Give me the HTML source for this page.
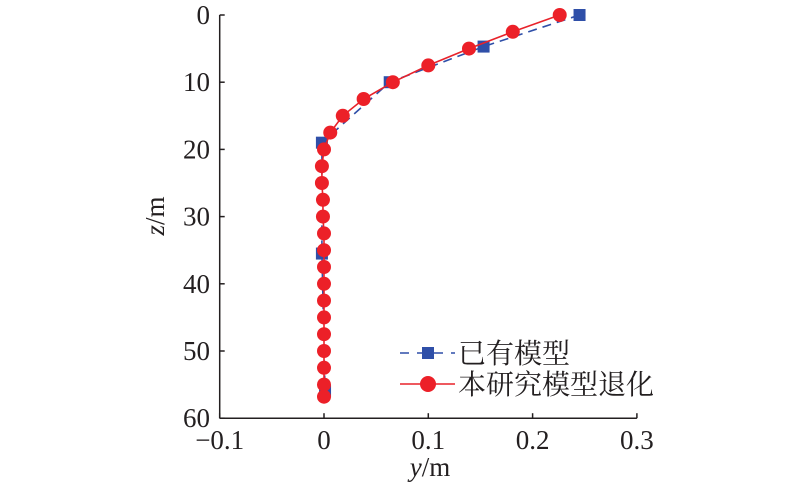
<!DOCTYPE html>
<html><head><meta charset="utf-8"><style>
html,body{margin:0;padding:0;background:#fff;width:800px;height:483px;overflow:hidden}
svg text{font-family:"Liberation Serif","Noto Serif CJK SC",serif;fill:#231f20}
</style></head><body>
<svg id="chart" width="800" height="483" viewBox="0 0 800 483"></svg>
<script>
const xTicks=[-0.1,0,0.1,0.2,0.3];
const xTickLabels=["\u22120.1","0","0.1","0.2","0.3"];
const zTicks=[0,10,20,30,40,50,60];
const zTickLabels=["0","10","20","30","40","50","60"];
const existZ=[0,4.7,10,19,35.5,56];
const existY=[0.245,0.153,0.063,-0.002,-0.002,0.001];
const studyZ=[0,2.5,5,7.5,10,12.5,15,17.5,20,22.5,25,27.5,30,32.5,35,37.5,40,42.5,45,47.5,50,52.5,55,56.8];
const studyY=[0.226,0.181,0.139,0.100,0.066,0.038,0.018,0.006,0.0,-0.002,-0.002,-0.001,-0.001,0,0,0,0,0,0,0,0,0,0,0];
const NS="http://www.w3.org/2000/svg";
const svg=document.getElementById('chart');
const X=v=>324+(v-0)*1043;
const Z=v=>15+v*6.72;
function mk(t,a,p){const e=document.createElementNS(NS,t);for(const k in a)e.setAttribute(k,a[k]);(p||svg).appendChild(e);return e;}
const axes=mk('g',{});


mk('line',{x1:X(-0.1),y1:Z(60),x2:X(0.3),y2:Z(60),stroke:'#231f20','stroke-width':1.5},axes);
mk('line',{x1:X(-0.1),y1:Z(0),x2:X(-0.1),y2:Z(60),stroke:'#231f20','stroke-width':1.5},axes);
xTicks.forEach((v,i)=>{
  mk('line',{x1:X(v),y1:Z(60),x2:X(v),y2:Z(60)-5,stroke:'#231f20','stroke-width':1.5},axes);
  const t=mk('text',{x:X(v),y:449,'text-anchor':'middle','font-size':27},axes);
  t.textContent=xTickLabels[i];
  
  
});
zTicks.forEach((v,i)=>{
  mk('line',{x1:X(-0.1),y1:Z(v),x2:X(-0.1)+5,y2:Z(v),stroke:'#231f20','stroke-width':1.5},axes);
  const t=mk('text',{x:210,y:Z(v)+9,'text-anchor':'end','font-size':27},axes);
  t.textContent=zTickLabels[i];
  
  
});
const xt=mk('text',{x:430,y:476,'text-anchor':'middle','font-size':27});
xt.innerHTML='<tspan font-style="italic">y</tspan>/m';


const zt=mk('text',{x:0,y:0,'text-anchor':'middle','font-size':27,transform:'translate(164,216) rotate(-90)'});
zt.innerHTML='<tspan font-style="italic">z</tspan>/m';


const g1=mk('g',{});


mk('polyline',{points:existZ.map((z,i)=>X(existY[i])+','+Z(z)).join(' '),fill:'none',stroke:'#2f4fa8','stroke-width':1.6,'stroke-dasharray':'9,6'},g1);
existZ.forEach((z,i)=>{
  const r=mk('rect',{x:X(existY[i])-6,y:Z(z)-6,width:12,height:12,fill:'#2f4fa8'},g1);
  
  
});
const g2=mk('g',{});


mk('polyline',{points:studyZ.map((z,i)=>X(studyY[i])+','+Z(z)).join(' '),fill:'none',stroke:'#e8222a','stroke-width':1.6},g2);
studyZ.forEach((z,i)=>{
  const c=mk('circle',{cx:X(studyY[i]),cy:Z(z),r:7,fill:'#ec2028'},g2);
  
  
});
const lg=mk('g',{});


const e1=mk('g',{},lg);


mk('line',{x1:400,y1:353,x2:455,y2:353,stroke:'#2f4fa8','stroke-width':1.6,'stroke-dasharray':'9,8'},e1);
mk('rect',{x:422,y:347,width:12,height:12,fill:'#2f4fa8'},e1);
const l1=mk('text',{x:458,y:363,'font-size':28},e1);l1.textContent='已有模型';
const e2=mk('g',{},lg);


mk('line',{x1:400,y1:384,x2:455,y2:384,stroke:'#e8222a','stroke-width':1.6},e2);
mk('circle',{cx:428,cy:384,r:8,fill:'#ec2028'},e2);
const l2=mk('text',{x:458,y:394,'font-size':28},e2);l2.textContent='本研究模型退化';
</script>
</body></html>
